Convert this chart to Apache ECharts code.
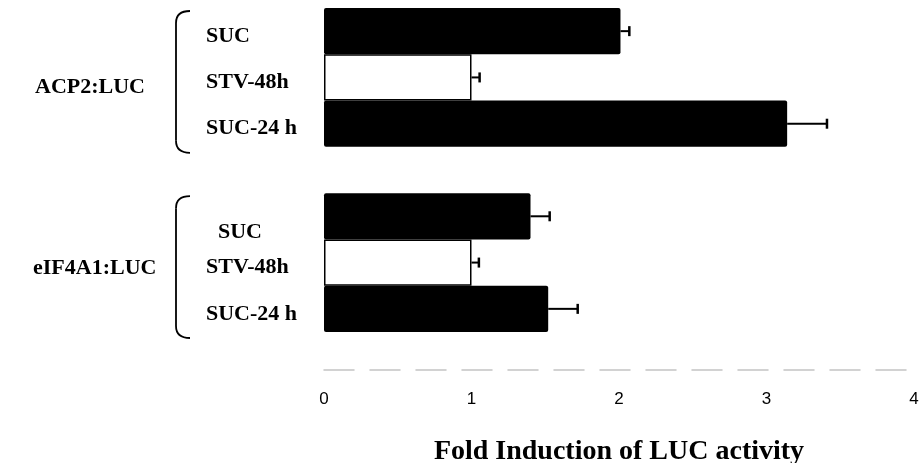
<!DOCTYPE html>
<html>
<head>
<meta charset="utf-8">
<script src="https://cdn.jsdelivr.net/npm/echarts@6/dist/echarts.min.js"></script>
<style>
  html, body { margin: 0; padding: 0; background: #fff; overflow: hidden; }
  #chart { width: 924px; height: 463px; }
</style>
</head>
<body>
<div id="chart"></div>
<script>
// Reporter constructs and the three sugar treatments
const groups = ['ACP2:LUC', 'eIF4A1:LUC'];
const treatments = ['SUC', 'STV-48h', 'SUC-24 h'];

// Fold induction of LUC activity (mean) and error (upper bar length)
const acp2Values = [2.01, 1.0, 3.14];
const acp2Errors = [0.06, 0.055, 0.27];
const eif4a1Values = [1.40, 1.0, 1.52];
const eif4a1Errors = [0.13, 0.05, 0.20];

const xTicks = [0, 1, 2, 3, 4];

// Bar fill per treatment: starved samples are open bars
const fills = ['#000', '#fff', '#000'];

// Category layout: three bars per construct with an empty slot between groups
const categories = [...treatments, '', ...treatments];
const values = [...acp2Values, null, ...eif4a1Values];
const errors = [...acp2Errors, null, ...eif4a1Errors];

const serif = '"Liberation Serif", "Times New Roman", serif';
const sans = '"Liberation Sans", Arial, sans-serif';

const barData = values.map((v, i) => {
  if (v == null) return null;
  const t = i % 4;
  return {
    value: v,
    itemStyle: {
      color: fills[t],
      borderColor: '#000',
      borderWidth: fills[t] === '#fff' ? 1.5 : 0,
      borderRadius: fills[t] === '#fff' ? 0 : 2
    }
  };
});

const errData = values
  .map((v, i) => (v == null ? null : [v, i, errors[i]]))
  .filter(d => d);

const chart = echarts.init(document.getElementById('chart'), null, { renderer: 'canvas' });

chart.setOption({
  animation: false,
  backgroundColor: '#fff',
  grid: {
    left: 324, right: 10, top: 8, bottom: 131,
    containLabel: false,
    outerBoundsMode: 'none'
  },
  xAxis: {
    type: 'value',
    min: xTicks[0],
    max: xTicks[xTicks.length - 1],
    interval: 1,
    offset: 38,
    axisLine: { show: true, lineStyle: { color: '#c4c4c4', width: 1.5, type: [30, 16] } },
    axisTick: { show: false },
    splitLine: { show: false },
    axisLabel: {
      margin: 21,
      color: '#000',
      fontFamily: sans,
      fontSize: 17,
      formatter: v => String(v)
    },
    name: 'Fold Induction of LUC activity',
    nameLocation: 'middle',
    nameGap: 68,
    nameTextStyle: { fontFamily: serif, fontWeight: 'bold', fontSize: 28, color: '#000' }
  },
  yAxis: {
    type: 'category',
    inverse: true,
    data: categories,
    axisLine: { show: false },
    axisTick: { show: false },
    axisLabel: {
      align: 'left',
      margin: 118,
      color: '#000',
      fontFamily: serif,
      fontWeight: 'bold',
      fontSize: 22,
      formatter: (v, i) => (i === 4 ? '{s|' + v + '}' : '{n|' + v + '}'),
      rich: {
        n: { fontFamily: serif, fontWeight: 'bold', fontSize: 22, color: '#000', padding: [10, 0, 0, 0] },
        s: { fontFamily: serif, fontWeight: 'bold', fontSize: 22, color: '#000', padding: [33, 0, 0, 12] }
      }
    }
  },
  series: [
    {
      type: 'bar',
      data: barData,
      barWidth: '100%',
      barCategoryGap: 0,
      z: 2
    },
    {
      type: 'custom',
      data: errData,
      encode: { x: 0, y: 1 },
      z: 3,
      renderItem: (params, api) => {
        const v = api.value(0);
        const idx = api.value(1);
        const e = api.value(2);
        const a = api.coord([v, idx]);
        const b = api.coord([v + e, idx]);
        return {
          type: 'group',
          children: [
            { type: 'line', shape: { x1: a[0], y1: a[1], x2: b[0], y2: b[1] }, style: { stroke: '#000', lineWidth: 2 } },
            { type: 'line', shape: { x1: b[0], y1: b[1] - 5, x2: b[0], y2: b[1] + 5 }, style: { stroke: '#000', lineWidth: 2.5 } }
          ]
        };
      }
    }
  ]
});

// Construct names and curly brackets placed against the category bands
function drawGroupMarks() {
  const yAt = i => chart.convertToPixel({ yAxisIndex: 0 }, i);
  const band = Math.abs(yAt(1) - yAt(0));
  const nameShift = [10, 6];
  const nameX = [35, 33];
  const elements = [];
  const stroke = { stroke: '#000', lineWidth: 1.8, fill: null };
  groups.forEach((g, gi) => {
    const first = gi * 4;
    const last = first + treatments.length - 1;
    const top = yAt(first) - band / 2;
    const bottom = yAt(last) + band / 2;
    const y1 = top + 3;
    const y2 = bottom + 6;
    const xs = 176, xe = 190, r = 12;
    elements.push(
      { type: 'bezierCurve', shape: { x1: xe, y1: y1, cpx1: xs, cpy1: y1, x2: xs, y2: y1 + r }, style: stroke },
      { type: 'line', shape: { x1: xs, y1: y1 + r, x2: xs, y2: y2 - r }, style: stroke },
      { type: 'bezierCurve', shape: { x1: xs, y1: y2 - r, cpx1: xs, cpy1: y2, x2: xe, y2: y2 }, style: stroke },
      {
        type: 'text',
        style: {
          text: g,
          x: nameX[gi],
          y: (top + bottom) / 2 + nameShift[gi],
          font: `bold 22px ${serif}`,
          fill: '#000',
          textAlign: 'left',
          textVerticalAlign: 'middle',
          align: 'left',
          verticalAlign: 'middle'
        }
      }
    );
  });
  chart.setOption({ graphic: elements });
}
drawGroupMarks();
</script>
</body>
</html>
